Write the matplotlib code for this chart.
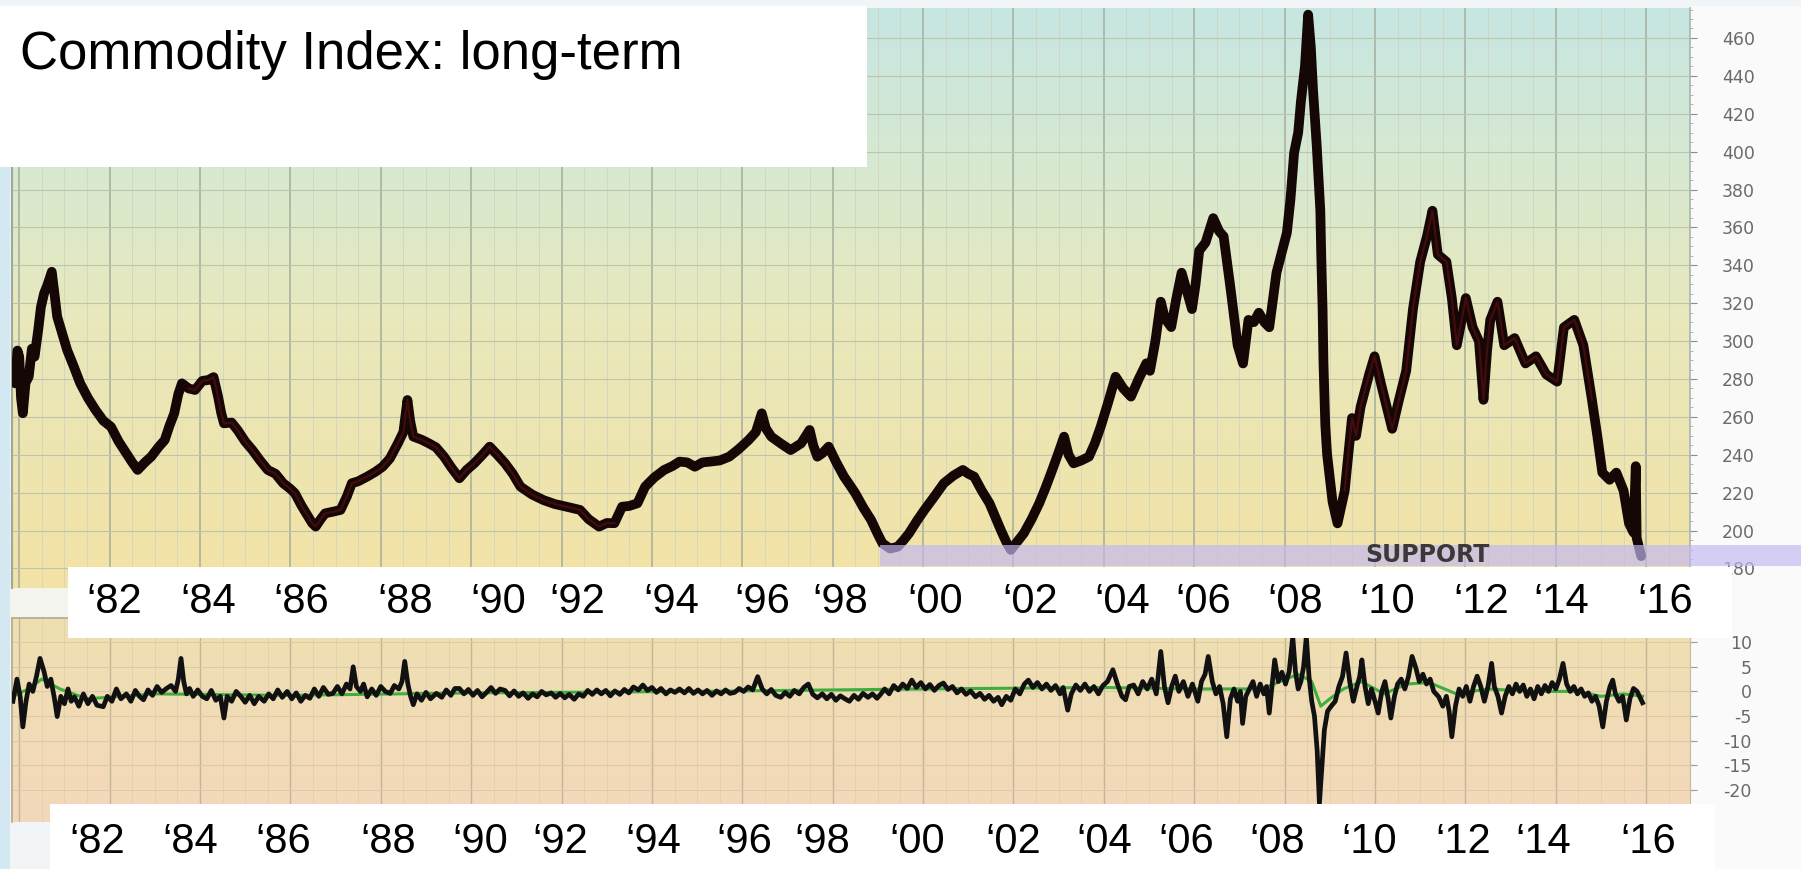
import numpy as np
import matplotlib
matplotlib.use("Agg")
import matplotlib.pyplot as plt
from matplotlib.colors import LinearSegmentedColormap
from matplotlib.patches import Rectangle

plt.rcParams['font.family'] = ['Liberation Sans', 'DejaVu Sans']

# ---------------- data ----------------
price_years = [
    1979.86, 1979.91, 1979.96, 1980.00, 1980.04, 1980.08, 1980.14, 1980.21, 1980.28, 1980.34,
    1980.42, 1980.48, 1980.55, 1980.63, 1980.72, 1980.78, 1980.84, 1980.95, 1981.06, 1981.20,
    1981.35, 1981.52, 1981.69, 1981.86, 1982.03, 1982.20, 1982.37, 1982.50, 1982.62, 1982.78,
    1982.92, 1983.08, 1983.22, 1983.32, 1983.43, 1983.52, 1983.60, 1983.75, 1983.89, 1984.05,
    1984.19, 1984.30, 1984.40, 1984.47, 1984.53, 1984.70, 1984.83, 1985.00, 1985.16, 1985.33,
    1985.50, 1985.67, 1985.84, 1986.00, 1986.10, 1986.25, 1986.35, 1986.48, 1986.56, 1986.67,
    1986.77, 1986.95, 1987.11, 1987.25, 1987.36, 1987.50, 1987.70, 1987.88, 1988.04, 1988.20,
    1988.38, 1988.50, 1988.59, 1988.65, 1988.72, 1988.90, 1989.06, 1989.22, 1989.40, 1989.57,
    1989.74, 1989.90, 1990.07, 1990.25, 1990.41, 1990.58, 1990.75, 1990.92, 1991.09, 1991.35,
    1991.60, 1991.85, 1992.11, 1992.41, 1992.60, 1992.83, 1993.00, 1993.17, 1993.34, 1993.50,
    1993.68, 1993.85, 1994.05, 1994.27, 1994.45, 1994.61, 1994.78, 1994.95, 1995.12, 1995.29,
    1995.50, 1995.71, 1995.92, 1996.14, 1996.30, 1996.43, 1996.52, 1996.64, 1996.85, 1997.07,
    1997.30, 1997.49, 1997.57, 1997.66, 1997.78, 1997.91, 1998.08, 1998.25, 1998.38, 1998.50,
    1998.68, 1998.85, 1999.00, 1999.10, 1999.27, 1999.44, 1999.57, 1999.69, 1999.86, 2000.03,
    2000.25, 2000.46, 2000.67, 2000.88, 2001.00, 2001.13, 2001.30, 2001.47, 2001.60, 2001.72,
    2001.84, 2001.94, 2002.08, 2002.23, 2002.40, 2002.57, 2002.70, 2002.83, 2002.98, 2003.12,
    2003.22, 2003.33, 2003.50, 2003.67, 2003.80, 2003.93, 2004.10, 2004.26, 2004.43, 2004.60,
    2004.77, 2004.94, 2005.02, 2005.14, 2005.26, 2005.35, 2005.49, 2005.60, 2005.72, 2005.84,
    2005.95, 2006.03, 2006.11, 2006.25, 2006.42, 2006.55, 2006.65, 2006.81, 2006.96, 2007.08,
    2007.20, 2007.32, 2007.43, 2007.55, 2007.66, 2007.82, 2008.05, 2008.13, 2008.21, 2008.30,
    2008.36, 2008.45, 2008.52, 2008.58, 2008.63, 2008.71, 2008.79, 2008.81, 2008.84, 2008.86,
    2008.90, 2008.94, 2009.06, 2009.17, 2009.33, 2009.49, 2009.58, 2009.68, 2009.87, 2009.99,
    2010.14, 2010.38, 2010.53, 2010.69, 2010.84, 2011.00, 2011.15, 2011.27, 2011.39, 2011.58,
    2011.70, 2011.81, 2012.01, 2012.16, 2012.30, 2012.40, 2012.48, 2012.55, 2012.71, 2012.86,
    2013.09, 2013.33, 2013.56, 2013.79, 2014.03, 2014.18, 2014.41, 2014.61, 2014.80, 2014.92,
    2015.03, 2015.19, 2015.34, 2015.50, 2015.62, 2015.72, 2015.77, 2015.79, 2015.89,
]
price_values = [
    284, 277.7, 295, 291.8, 270, 261.9, 278, 281.2, 296, 291.8,
    305.9, 318, 325.2, 330, 336.6, 325, 312.9, 304, 295.3, 287,
    277.7, 270, 263.6, 258, 254.8, 247, 240.8, 236, 232.0, 236,
    239.0, 244, 247.8, 255, 261.9, 272, 277.7, 275, 274.2, 279,
    279.5, 281, 270.7, 262, 256.6, 257, 253.1, 247, 242.5, 237,
    232.0, 230, 225.0, 222, 219.7, 213, 209.1, 204, 202.1, 206,
    209.1, 210, 210.9, 218, 225.0, 226, 228.5, 231, 233.7, 238,
    246.1, 252, 268.9, 258, 249.6, 248, 246.1, 244, 239.0, 233,
    227.6, 232, 235.5, 240, 244.3, 240, 235.5, 230, 223.2, 219,
    216.1, 214, 212.6, 210.9, 206, 202.1, 204, 203.9, 212.6, 213,
    214.4, 223.2, 228, 232.0, 234, 236.4, 236, 233.7, 236, 236.4,
    237, 239.0, 243, 247.8, 252, 261.9, 254, 249.6, 246, 242.5,
    246, 253.1, 245, 239.0, 241, 244.3, 236, 228.5, 224, 219.7,
    212, 205.6, 198, 193.3, 190.5, 191.5, 195, 198.6, 205, 210.9,
    218, 225.0, 229, 232.0, 230, 228.5, 221, 214.4, 207, 200.3,
    194, 189.8, 194, 198.6, 206, 214.4, 222, 230.2, 240, 249.6,
    240, 235.5, 237, 239.0, 246, 254.8, 268, 281.2, 275, 270.7,
    280, 288.3, 284.3, 300, 320.8, 312, 307.4, 322, 336.1, 326,
    316.9, 330, 347.7, 352, 364.9, 358, 355.3, 326.5, 297.8, 288.2,
    311.2, 310, 315.0, 310, 307.3, 336.1, 357.2, 375, 399.4, 410,
    426.3, 445, 472.3, 455, 432.0, 403.3, 368.8, 345.7, 316.9, 288.2,
    255.6, 240.2, 215.3, 203.8, 221.1, 259.4, 250, 265.2, 282.4, 292.0,
    276.7, 253.7, 269.0, 284.3, 316.9, 341.9, 355.3, 368.8, 345.7, 341.9,
    322.7, 297.8, 322.7, 307.3, 300, 269.0, 295, 311.2, 320.8, 297.8,
    301.6, 288.2, 292.0, 282.4, 278.6, 307.3, 311.2, 297.8, 269.0, 249.8,
    230.6, 226.8, 230.6, 221.1, 203.8, 199, 234, 196.1, 186.5,
]

osc_years = [
    1979.86, 1979.95, 1980.02, 1980.08, 1980.15, 1980.22, 1980.30, 1980.38, 1980.46, 1980.55,
    1980.62, 1980.70, 1980.78, 1980.84, 1980.92, 1981.00, 1981.08, 1981.15, 1981.22, 1981.32,
    1981.42, 1981.52, 1981.62, 1981.72, 1981.86, 1981.95, 1982.05, 1982.15, 1982.25, 1982.37,
    1982.47, 1982.57, 1982.66, 1982.75, 1982.85, 1982.95, 1983.05, 1983.15, 1983.26, 1983.36,
    1983.46, 1983.52, 1983.58, 1983.64, 1983.70, 1983.77, 1983.85, 1983.95, 1984.05, 1984.15,
    1984.25, 1984.35, 1984.45, 1984.53, 1984.60, 1984.70, 1984.80, 1984.91, 1985.00, 1985.10,
    1985.20, 1985.30, 1985.42, 1985.52, 1985.62, 1985.72, 1985.82, 1985.93, 1986.03, 1986.13,
    1986.23, 1986.33, 1986.43, 1986.53, 1986.63, 1986.73, 1986.84, 1986.94, 1987.04, 1987.14,
    1987.24, 1987.32, 1987.39, 1987.46, 1987.55, 1987.62, 1987.70, 1987.80, 1987.90, 1988.00,
    1988.10, 1988.21, 1988.30, 1988.40, 1988.47, 1988.53, 1988.60, 1988.66, 1988.72, 1988.80,
    1988.90, 1989.00, 1989.10, 1989.23, 1989.35, 1989.45, 1989.55, 1989.64, 1989.74, 1989.84,
    1989.94, 1990.04, 1990.14, 1990.24, 1990.34, 1990.44, 1990.54, 1990.64, 1990.75, 1990.85,
    1990.95, 1991.05, 1991.15, 1991.26, 1991.36, 1991.46, 1991.56, 1991.66, 1991.77, 1991.87,
    1991.97, 1992.07, 1992.17, 1992.28, 1992.38, 1992.48, 1992.58, 1992.68, 1992.78, 1992.88,
    1992.98, 1993.08, 1993.18, 1993.29, 1993.39, 1993.49, 1993.59, 1993.70, 1993.80, 1993.90,
    1994.00, 1994.10, 1994.20, 1994.31, 1994.41, 1994.51, 1994.61, 1994.72, 1994.82, 1994.92,
    1995.02, 1995.12, 1995.22, 1995.33, 1995.43, 1995.53, 1995.63, 1995.73, 1995.83, 1995.93,
    1996.03, 1996.13, 1996.23, 1996.34, 1996.44, 1996.54, 1996.64, 1996.74, 1996.85, 1996.95,
    1997.05, 1997.15, 1997.26, 1997.36, 1997.46, 1997.56, 1997.66, 1997.77, 1997.87, 1997.97,
    1998.07, 1998.17, 1998.27, 1998.37, 1998.47, 1998.57, 1998.67, 1998.78, 1998.88, 1998.98,
    1999.05, 1999.15, 1999.25, 1999.35, 1999.45, 1999.55, 1999.65, 1999.75, 1999.85, 1999.95,
    2000.05, 2000.15, 2000.25, 2000.35, 2000.45, 2000.55, 2000.65, 2000.75, 2000.85, 2000.95,
    2001.05, 2001.16, 2001.26, 2001.36, 2001.46, 2001.56, 2001.66, 2001.74, 2001.84, 2001.94,
    2002.04, 2002.14, 2002.24, 2002.33, 2002.43, 2002.53, 2002.63, 2002.73, 2002.83, 2002.93,
    2003.03, 2003.10, 2003.20, 2003.28, 2003.38, 2003.48, 2003.58, 2003.68, 2003.78, 2003.88,
    2003.98, 2004.08, 2004.20, 2004.30, 2004.40, 2004.48, 2004.56, 2004.66, 2004.76, 2004.86,
    2004.96, 2005.06, 2005.16, 2005.26, 2005.34, 2005.42, 2005.50, 2005.58, 2005.66, 2005.76,
    2005.86, 2005.96, 2006.08, 2006.16, 2006.24, 2006.31, 2006.40, 2006.48, 2006.56, 2006.64,
    2006.72, 2006.80, 2006.88, 2006.96, 2007.02, 2007.07, 2007.14, 2007.22, 2007.30, 2007.38,
    2007.46, 2007.54, 2007.60, 2007.66, 2007.72, 2007.78, 2007.86, 2007.94, 2008.02, 2008.10,
    2008.18, 2008.24, 2008.30, 2008.36, 2008.42, 2008.48, 2008.54, 2008.60, 2008.66, 2008.72,
    2008.77, 2008.82, 2008.88, 2008.95, 2009.03, 2009.12, 2009.20, 2009.28, 2009.36, 2009.44,
    2009.52, 2009.60, 2009.66, 2009.71, 2009.78, 2009.85, 2009.92, 2010.00, 2010.07, 2010.15,
    2010.22, 2010.29, 2010.35, 2010.43, 2010.50, 2010.58, 2010.66, 2010.74, 2010.82, 2010.90,
    2010.98, 2011.06, 2011.14, 2011.22, 2011.30, 2011.41, 2011.50, 2011.58, 2011.64, 2011.70,
    2011.78, 2011.86, 2011.94, 2012.02, 2012.10, 2012.18, 2012.26, 2012.34, 2012.42, 2012.50,
    2012.58, 2012.64, 2012.72, 2012.80, 2012.88, 2012.96, 2013.04, 2013.12, 2013.20, 2013.28,
    2013.36, 2013.44, 2013.52, 2013.60, 2013.68, 2013.76, 2013.84, 2013.92, 2014.00, 2014.08,
    2014.16, 2014.24, 2014.32, 2014.40, 2014.48, 2014.56, 2014.64, 2014.72, 2014.80, 2014.88,
    2014.96, 2015.04, 2015.12, 2015.20, 2015.26, 2015.32, 2015.40, 2015.48, 2015.56, 2015.64,
    2015.72, 2015.80, 2015.88, 2015.92,
]
osc_values = [
    -2.0, 2.5, -1.0, -7.2, -2.0, 1.5, 0.0, 3.0, 6.7, 4.0,
    1.0, 2.5, -1.5, -5.1, -1.0, -2.5, 0.5, -2.0, -1.1, -3.0,
    -0.5, -2.5, -1.0, -2.8, -3.1, -1.0, -2.0, 0.5, -1.5, -0.5,
    -2.0, 0.2, -1.0, -1.7, 0.3, -0.8, 1.0, -0.2, 0.6, 1.2,
    0.0, 2.5, 6.7, 2.0, -0.5, 0.6, -1.0, 0.3, -1.0, -1.5,
    0.2, -1.8, -1.0, -5.4, -1.0, -2.0, 0.0, -1.1, -2.2, -0.8,
    -2.5, -1.0, -2.0, -0.5, -1.5, 0.3, -1.2, 0.0, -1.5, -0.3,
    -2.0, -0.8, -1.4, 0.5, -1.0, 0.8, -0.6, -0.4, 1.0, -0.5,
    1.5, 0.5, 5.0, 1.0, 0.0, 1.5, -1.1, 0.5, -0.8, 1.0,
    0.0, -0.4, 1.2, 0.5, 2.0, 6.1, 1.5, -1.0, -2.7, -0.5,
    -1.8, -0.2, -1.5, -0.4, -1.2, 0.3, -0.8, 0.6, 0.6, -0.5,
    0.4, -0.8, 0.2, -1.1, -0.2, 0.8, -0.4, 0.5, 0.2, -0.9,
    0.1, -1.0, -0.3, -1.4, -0.5, -1.1, 0.0, -0.7, -0.3, -1.2,
    -0.4, -1.3, -0.6, -1.6, -0.5, -1.0, 0.2, -0.6, 0.3, -0.5,
    0.2, -0.9, 0.1, -0.6, 0.4, -0.3, 0.9, 0.3, 1.3, 0.2,
    0.8, -0.2, 0.6, -0.5, 0.3, -0.2, 0.5, -0.3, 0.6, -0.4,
    0.3, -0.5, 0.2, -0.8, 0.1, -0.5, 0.3, -0.4, -0.2, 0.6,
    0.0, 0.9, 0.3, 3.0, 0.5, -0.5, 0.4, -0.8, -1.2, -0.2,
    -1.0, 0.2, -0.5, 0.8, 1.5, -0.6, -1.3, -0.5, -1.5, -0.6,
    -1.8, -0.9, -1.5, -2.0, -0.8, -1.6, -0.4, -1.2, -0.5, -1.4,
    -0.7, 0.5, -0.5, 1.2, 0.3, 1.5, 0.6, 2.3, 0.8, 1.8,
    0.5, 1.4, 0.2, 1.2, 1.7, 0.4, 1.0, -0.3, 0.5, -0.6,
    0.1, -1.1, -0.4, -1.6, -0.8, -2.0, -1.2, -2.7, -1.0, -1.8,
    0.5, -0.5, 1.5, 2.3, 0.8, 1.8, 0.5, 1.5, 0.2, 1.2,
    -0.5, 0.8, -3.8, -0.5, 1.3, 0.2, 1.5, 0.0, 1.0, -0.5,
    1.2, 2.0, 4.4, 1.5, -1.0, -1.7, 1.0, 1.3, -0.5, 2.0,
    0.5, 2.5, -0.5, 8.1, 1.0, -2.3, 1.0, 3.1, 0.0, 2.0,
    -1.0, 1.5, -2.0, 2.0, 3.5, 7.1, 2.0, -0.5, 1.0, -2.5,
    -9.2, -1.5, 0.5, -2.0, 0.0, -6.5, -1.0, 0.5, 2.0, -1.0,
    1.5, -0.5, 1.0, -4.4, 1.0, 6.4, 2.0, 3.9, 1.5, 4.0,
    11.1, 4.0, 0.5, 2.0, 5.0, 11.1, 3.0, -2.0, -5.0, -12.0,
    -22.7, -16.0, -7.8, -4.0, -3.0, -2.0, 1.0, 3.0, 7.8, 2.0,
    -2.0, 1.0, 3.0, 6.4, 1.0, -2.5, 0.5, -2.0, -4.4, 0.0,
    2.0, -1.5, -5.4, -1.0, 1.5, 2.5, 0.5, 3.0, 7.1, 4.9,
    2.0, 3.5, 1.5, 2.5, 0.0, -1.1, -3.0, -1.0, -4.0, -9.2,
    -3.0, 0.5, -1.0, 1.0, -2.0, 1.0, 3.1, 1.0, -2.0, 1.0,
    5.7, 1.0, -1.0, -4.4, -1.0, 1.0, -0.5, 1.5, 0.0, 1.3,
    -1.0, 0.5, -1.5, 1.0, -0.5, 1.2, 0.0, 1.8, 0.5, 2.5,
    5.7, 1.5, 0.0, 1.0, -0.5, 0.5, -1.0, -0.3, -2.0, -1.0,
    -3.0, -7.2, -2.0, 1.0, 2.3, -0.5, -2.0, -1.0, -5.8, -1.5,
    0.6, 0.0, -1.5, -2.3,
]

signal_years = [1979.86, 1980.2, 1980.5, 1980.9, 1981.5, 1983.0, 1986.0, 1990.0, 1995.0,
                2000.0, 2004.0, 2006.0, 2007.5, 2008.3, 2008.6, 2008.8, 2009.0, 2009.3,
                2009.7, 2010.2, 2010.7, 2011.2, 2011.8, 2012.5, 2013.5, 2014.5, 2015.0,
                2015.5, 2015.92]
signal_values = [-1.0, 0.5, 2.5, 0.5, -1.5, -0.5, -0.8, -0.3, 0.0,
                 0.5, 0.8, 0.5, 0.5, 3.5, 2.0, -3.0, -1.5, 0.5,
                 2.0, -0.5, 1.5, 1.8, -0.5, 0.5, 0.0, 0.0, -1.0,
                 -0.5, -1.0]

price_ticks = [460, 440, 420, 400, 380, 360, 340, 320, 300, 280, 260, 240, 220, 200, 180]
osc_ticks = [10, 5, 0, -5, -10, -15, -20]
osc_tick_labels = ["10", "5", "0", "-5", "-10", "-15", "-20"]
year_labels = ["‘82", "‘84", "‘86", "‘88", "‘90", "‘92", "‘94", "‘96", "‘98",
               "‘00", "‘02", "‘04", "‘06", "‘08", "‘10", "‘12", "‘14", "‘16"]
year_label_at = [1982.11, 1984.17, 1986.23, 1988.54, 1990.59, 1992.35, 1994.42, 1996.44,
                 1998.16, 2000.26, 2002.38, 2004.40, 2006.20, 2008.23, 2010.26, 2012.34,
                 2014.12, 2016.43]
title = "Commodity Index: long-term"
support_label = "SUPPORT"
support_range = (181.5, 192.5)
support_from = 1999.05

# ---------------- layout helpers ----------------
W, H, DPI = 1801, 869, 100
fig = plt.figure(figsize=(W / DPI, H / DPI), dpi=DPI)
fig.patch.set_facecolor('#f1f5f8')


def box(x0, y0, x1, y1):
    return [x0 / W, 1 - y1 / H, (x1 - x0) / W, (y1 - y0) / H]


def fig_rect(x0, y0, x1, y1, color, z):
    fig.add_artist(Rectangle((x0 / W, 1 - y1 / H), (x1 - x0) / W, (y1 - y0) / H,
                             transform=fig.transFigure, facecolor=color,
                             edgecolor='none', zorder=z))


fig_rect(0, 6, 10, H, '#d3e8f1', -2)
fig_rect(1690, 6, W, H, '#fafafa', -2)
fig_rect(10, 588, 1690, 618, '#f4f4ef', -2)

XLIM = (1979.84, 2016.97)
BAND_XLIM = (1981.07, 2017.90)

# ---------------- main price panel ----------------
ax = fig.add_axes(box(12, 8, 1690, 588))
YLIM = (169.7, 475.8)
main_cmap = LinearSegmentedColormap.from_list(
    'bg', [(0, '#c6e6e2'), (0.3, '#d9e9cf'), (0.55, '#e9e8bb'), (1, '#f3e2a5')])
ax.imshow(np.linspace(0, 1, 256)[:, None], cmap=main_cmap, aspect='auto',
          extent=(XLIM[0], XLIM[1], YLIM[0], YLIM[1]), origin='upper',
          interpolation='bicubic', zorder=0)
ax.set_xlim(*XLIM)
ax.set_ylim(*YLIM)
ax.set_axisbelow(True)
ax.set_xticks(np.arange(1980, 2017, 2))
ax.set_xticks(np.arange(1980, 2017, 0.5), minor=True)
ax.tick_params(axis='x', which='both', length=0, labelbottom=False)
ax.grid(axis='x', which='major', color='#a4ae9c', lw=1.1)
ax.grid(axis='x', which='minor', color='#cfd5bf', lw=0.6)
ax.yaxis.tick_right()
ax.set_yticks(price_ticks)
ax.set_yticklabels([str(t) for t in price_ticks])
ax.set_yticks(np.arange(175, 476, 5), minor=True)
ax.grid(axis='y', which='major', color='#bcc4ab', lw=0.8)
ax.tick_params(axis='y', which='major', direction='out', length=5, width=0.8,
               color='#8c8c8c', pad=41.8, labelsize=12.5, labelcolor='#6a6a6a')
ax.tick_params(axis='y', which='minor', direction='out', length=2.5, width=0.6,
               color='#a8a8a8')
for lbl in ax.get_yticklabels():
    lbl.set_horizontalalignment('right')
    lbl.set_family('DejaVu Sans')
for s in ('top', 'bottom'):
    ax.spines[s].set_visible(False)
ax.spines['left'].set_color('#9aa89e')
ax.spines['left'].set_linewidth(1.5)
ax.spines['right'].set_color('#a6b5ae')
ax.spines['right'].set_linewidth(1.2)

py = np.array(price_years)
pv = np.array(price_values)
ax.plot(py, pv, color='#160707', lw=7, solid_joinstyle='round',
        solid_capstyle='round', zorder=3)
red = np.where(((py > 1983.6) & (py < 1993.2)) | ((py > 2009.3) & (py < 2014.9)), pv, np.nan)
ax.plot(py, red, color='#7a1010', lw=1.6, alpha=0.45, zorder=3.2)

ax.add_patch(Rectangle((support_from, support_range[0]), 2019.6 - support_from,
                       support_range[1] - support_range[0], transform=ax.transData,
                       clip_on=False, facecolor='#c2b8f2', alpha=0.68,
                       edgecolor='none', zorder=4))
ax.text(2011.17, 187.1, support_label, ha='center', va='center', fontsize=17,
        fontweight='bold', color='#3b3838', family='DejaVu Sans', zorder=5)

# ---------------- oscillator panel ----------------
ax2 = fig.add_axes(box(12, 618, 1690, 822))
OLIM = (-26.5, 14.9)
low_cmap = LinearSegmentedColormap.from_list('bg2', ['#eee0b1', '#f4d7bb'])
ax2.imshow(np.linspace(0, 1, 256)[:, None], cmap=low_cmap, aspect='auto',
           extent=(XLIM[0], XLIM[1], OLIM[0], OLIM[1]), origin='upper',
           interpolation='bicubic', zorder=0)
ax2.set_xlim(*XLIM)
ax2.set_ylim(*OLIM)
ax2.set_axisbelow(True)
ax2.set_xticks(np.arange(1980, 2017, 2))
ax2.set_xticks(np.arange(1980, 2017, 0.5), minor=True)
ax2.tick_params(axis='x', which='both', length=0, labelbottom=False)
ax2.grid(axis='x', which='major', color='#c4b596', lw=1.0)
ax2.grid(axis='x', which='minor', color='#e0d0b0', lw=0.6)
ax2.yaxis.tick_right()
ax2.set_yticks(osc_ticks)
ax2.set_yticklabels(osc_tick_labels)
ax2.grid(axis='y', which='major', color='#dccaa6', lw=0.7)
ax2.tick_params(axis='y', which='major', direction='out', length=5, width=0.8,
                color='#9a9a9a', pad=39.6, labelsize=12.5, labelcolor='#6a6a6a')
for lbl in ax2.get_yticklabels():
    lbl.set_horizontalalignment('right')
    lbl.set_family('DejaVu Sans')
ax2.spines['bottom'].set_visible(False)
for s in ('left', 'top'):
    ax2.spines[s].set_color('#b5ad95')
    ax2.spines[s].set_linewidth(1.3)
ax2.spines['right'].set_color('#c2b9a0')

ax2.plot(signal_years, signal_values, color='#3fae3f', lw=2.2, zorder=2.5)
ax2.plot(osc_years, osc_values, color='#111111', lw=3.4, zorder=3)

# ---------------- white year-label bands ----------------
for rect, yfrac in (((67.7, 566.7, 1732, 637.7), 0.5), ((50.2, 804, 1714.5, 869), 0.42)):
    band = fig.add_axes(box(*rect))
    band.set_zorder(5)
    band.set_facecolor('white')
    band.set_xlim(*BAND_XLIM)
    band.set_ylim(0, 1)
    band.set_xticks([])
    band.set_yticks([])
    for s in band.spines.values():
        s.set_visible(False)
    for x, lab in zip(year_label_at, year_labels):
        band.text(x, yfrac, lab, ha='center', va='center', fontsize=30,
                  family='Liberation Sans', color='black')

# ---------------- title box ----------------
fig_rect(0, 6, 867, 167, 'white', 10)
fig.text(20 / W, 1 - 69 / H, title, fontsize=38, ha='left', va='baseline',
         color='black', family='Liberation Sans', zorder=11)

fig.savefig('out.png', dpi=DPI, facecolor=fig.get_facecolor())
